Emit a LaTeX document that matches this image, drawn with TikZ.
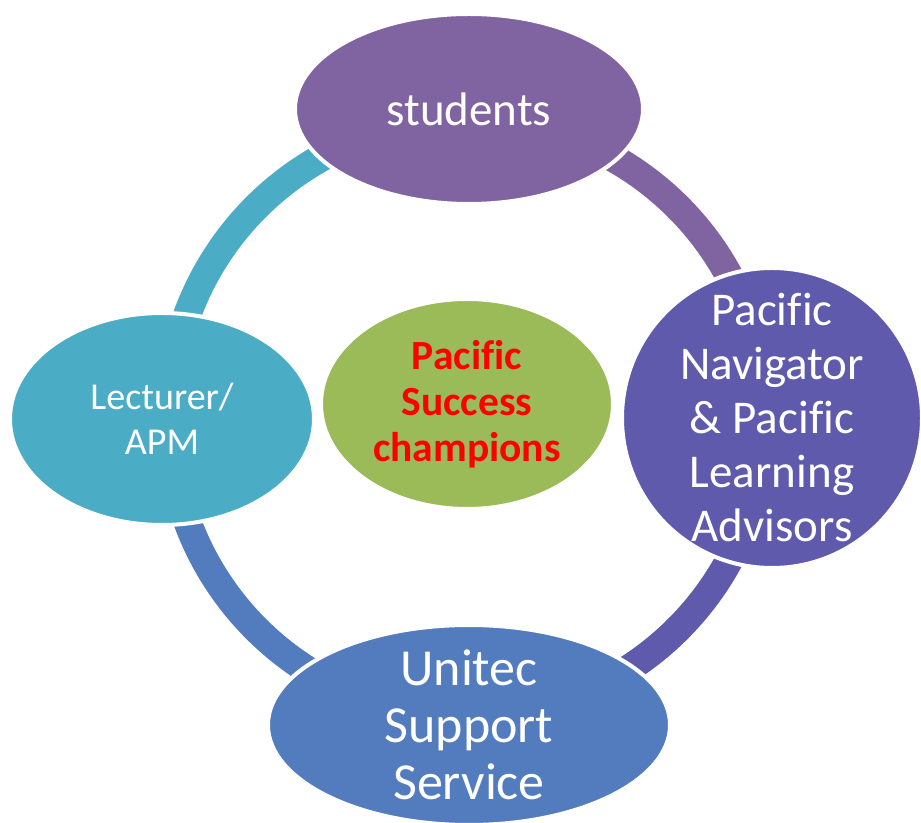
\documentclass[tikz,border=0pt]{standalone}
\usepackage{fontspec}
\setmainfont[Ligatures=NoCommon]{Carlito}
\usepackage{xcolor}
\usetikzlibrary{shapes.geometric}

\definecolor{studentcol}{HTML}{8064A2}
\definecolor{advisorcol}{HTML}{5F5AAC}
\definecolor{unitecol}{HTML}{527CBE}
\definecolor{lecturercol}{HTML}{4BACC6}
\definecolor{championcol}{HTML}{9BBB59}
\definecolor{championtext}{HTML}{FF0000}

\begin{document}
\begin{tikzpicture}[x=1pt, y=1pt,
    bubble/.style={ellipse, draw=white, line width=4pt, inner sep=0pt},
    bubbletext/.style={text=white, align=center},
    ringarc/.style={line width=28pt}]
    % Define ring size
    \def\ringR{298}

    \useasboundingbox (0,0) rectangle (921,822);

    % Ring centre and the points where it runs into each bubble
    \coordinate (hub) at (467,404);
    \path (hub) ++(90:\ringR) coordinate (ringN);
    \path (hub) ++(0:\ringR) coordinate (ringE);
    \path (hub) ++(-90:\ringR) coordinate (ringS);
    \path (hub) ++(180:\ringR) coordinate (ringW);

    % Draw the ring, one quarter per colour
    \draw[ringarc, lecturercol] (ringW) to[out=90, in=180] (ringN);
    \draw[ringarc, studentcol] (ringN) to[out=0, in=90] (ringE);
    \draw[ringarc, advisorcol] (ringE) to[out=-90, in=0] (ringS);
    \draw[ringarc, unitecol] (ringS) to[out=180, in=-90] (ringW);

    % Draw the bubbles on the ring
    \node[bubble, fill=studentcol, minimum width=348pt, minimum height=190pt,
          label={[bubbletext, font=\fontsize{47}{54}\selectfont]center:students}]
          (students) at (469,713) {};
    \node[bubble, fill=advisorcol, minimum width=300pt, minimum height=300pt,
          label={[bubbletext, font=\fontsize{47}{54}\selectfont]center:Pacific\\Navigator\\\& Pacific\\Learning\\Advisors}]
          (advisors) at (772,404) {};
    \node[bubble, fill=unitecol, minimum width=402pt, minimum height=200pt,
          label={[bubbletext, font=\fontsize{52}{57}\selectfont]center:Unitec\\Support\\Service}]
          (unitec) at (469,97) {};
    \node[bubble, fill=lecturercol, minimum width=304pt, minimum height=212pt,
          label={[bubbletext, font=\fontsize{38}{45}\selectfont]center:Lecturer/\\APM}]
          (lecturer) at (162,403) {};

    % Centre bubble
    \node[bubble, fill=championcol, minimum width=292pt, minimum height=210pt,
          label={[align=center, text=championtext, font=\bfseries\fontsize{41.5}{46}\selectfont]center:Pacific\\Success\\champions}]
          (champions) at (467,418) {};
\end{tikzpicture}
\end{document}
